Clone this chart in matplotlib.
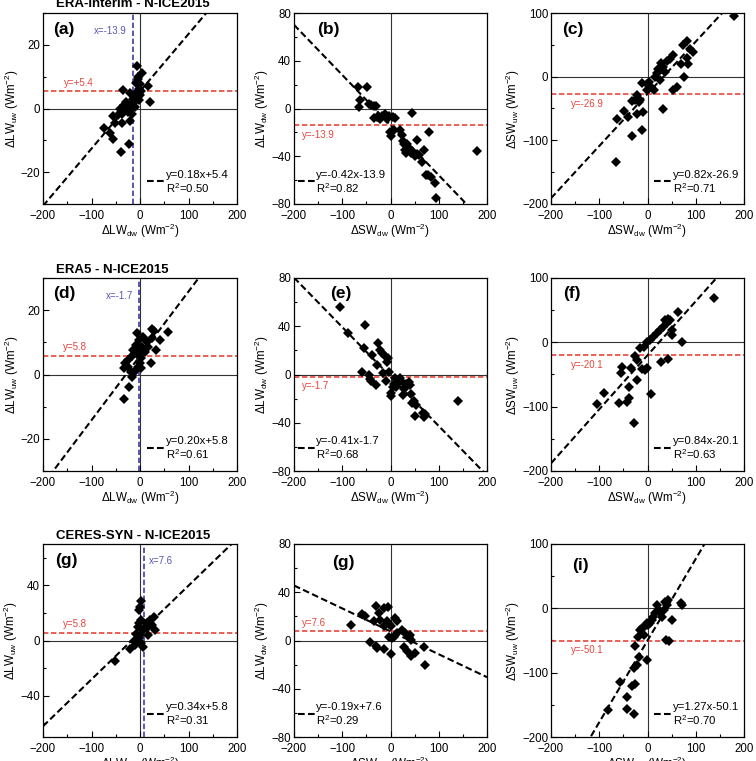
import matplotlib
matplotlib.use('Agg')
import matplotlib.pyplot as plt
from matplotlib.ticker import MultipleLocator
import matplotlib.transforms as mtransforms
import numpy as np

plt.rcParams['font.family'] = ['Liberation Sans', 'DejaVu Sans']
plt.rcParams['mathtext.fontset'] = 'custom'
plt.rcParams['mathtext.rm'] = 'Liberation Sans'
plt.rcParams['mathtext.it'] = 'Liberation Sans:italic'
plt.rcParams['mathtext.bf'] = 'Liberation Sans:bold'

# ---------------- data ----------------
row_titles = ['ERA-Interim - N-ICE2015', 'ERA5 - N-ICE2015', 'CERES-SYN - N-ICE2015']
panel_labels = ['(a)', '(b)', '(c)', '(d)', '(e)', '(f)', '(g)', '(g)', '(i)']
slopes = [0.18, -0.42, 0.82, 0.20, -0.41, 0.84, 0.34, -0.19, 1.27]
intercepts = [5.4, -13.9, -26.9, 5.8, -1.7, -20.1, 5.8, 7.6, -50.1]
r2_values = [0.50, 0.82, 0.71, 0.61, 0.68, 0.63, 0.31, 0.29, 0.70]
eq_labels = ['y=0.18x+5.4', 'y=-0.42x-13.9', 'y=0.82x-26.9',
             'y=0.20x+5.8', 'y=-0.41x-1.7', 'y=0.84x-20.1',
             'y=0.34x+5.8', 'y=-0.19x+7.6', 'y=1.27x-50.1']
r2_labels = ['R$^2$=0.50', 'R$^2$=0.82', 'R$^2$=0.71',
             'R$^2$=0.61', 'R$^2$=0.68', 'R$^2$=0.63',
             'R$^2$=0.31', 'R$^2$=0.29', 'R$^2$=0.70']
hline_labels = ['y=+5.4', 'y=-13.9', 'y=-26.9', 'y=5.8', 'y=-1.7', 'y=-20.1',
                'y=5.8', 'y=7.6', 'y=-50.1']
vline_values = [-13.9, -1.7, 7.6]
vline_labels = ['x=-13.9', 'x=-1.7', 'x=7.6']
x_range = [-200, 200]
y_ranges = [(-30, 30), (-80, 80), (-200, 100),
            (-30, 30), (-80, 80), (-200, 100),
            (-70, 70), (-80, 80), (-200, 100)]
y_major = [20, 40, 100, 20, 40, 100, 40, 40, 100]
y_minor = [10, 20, 50, 10, 20, 50, 20, 20, 50]

# (a) dLWuw vs dLWdw, ERA-Interim
a_x = [-6, 4, -5, 0, 17, 20, -35, -21, -7, -5, -8, -14, -28, -34, -41, -31, -38, -45,
       -21, -17, -55, -52, -38, -21, -75, -62, -55, -22, -40, -3, -1, -14, -29, -10,
       -25, -18, -12, -2, 2, -8, -4]
a_y = [13.3, 11, 9.4, 7.8, 7, 2, 5.8, 5, 5.2, 3.7, 2.6, 1.6, 0.6, 1, 0, -0.5, -1.6, -2.1,
       0, -1.6, -2.5, -4.5, -4.7, -3.9, -6, -7.6, -9.6, -11.2, -13.6, 2.6, 4.2, 3.1, 2.1, 0.5,
       -1, 1.5, 4, 6, 5.5, 8, 10]
# (b) dLWdw vs dSWdw, ERA-Interim
b_x = [-67, -48, -63, -66, -44, -40, -35, -30, -34, -27, -22, -18, -12, -8, -3, 5, 10,
       -2, 2, 8, 20, 24, 45, 28, 30, 33, 38, 42, 45, 50, 55, 55, 60, 65, 70, 73, 78, 83,
       80, 92, 95, 180, 35, 25]
b_y = [18, 18, 7, 1, 4, 3, 2, 2, -8, -7, -9, -6, -5, -9, -6, -7, -8,
       -20, -23, -18, -18, -22, -4, -30, -35, -37, -33, -37, -36, -40, -26, -38, -39, -45,
       -35, -56, -56, -57, -20, -62, -75, -36, -30, -27]
# (c) dSWuw vs dSWdw, ERA-Interim
c_x = [180, 81, 88, 94, 73, 52, 47, 81, 84, 70, 29, 32, 26, 19, 16, 26, 37, 76, 52, 62,
       33, 3, -1, 7, -1, -12, -22, -26, -33, -17, -10, -22, -48, -41, -63, -32, -12, -65,
       13, -15, 40, 22]
c_y = [95, 56, 44, 38, 50, 34, 27, 30, 20, 20, 21, 15, 10, 5, 0, -6, 7, 0, -21, -17,
       -51, -8, -11, -17, -21, -10, -29, -37, -38, -40, -55, -58, -54, -63, -66, -93, -83,
       -134, -21, -37, 24, 12]
# (d) dLWuw vs dLWdw, ERA5
d_x = [24, 28, 57, 41, 24, 7, 14, 34, 22, -7, -3, -8, -14, -10, -17, -24, -31, -33, -24,
       -19, -14, -8, -5, 0, 3, -17, -22, -33, -3, 3, 10, 17, 5, 0]
d_y = [14.2, 13.4, 13.3, 10.8, 11.3, 11.8, 10.2, 7.6, 3.7, 12.8, 10.8, 9.2, 7.6, 6.6, 5.6,
       4.5, 3.5, 1.9, 2.4, 0.9, 0.4, 1.4, 2.4, 3.5, 1.9, -0.7, -4, -7.6, 5.6, 5.1, 7.1, 8.7,
       8.7, 7.6]
# (e) dLWdw vs dSWdw, ERA5
e_x = [-105, -52, -88, -55, -38, -25, -22, -18, -12, -8, -5, -28, -45, -40, -60, -30, -42,
       -3, 0, 2, 5, 8, 12, 15, 20, 25, 28, 32, 38, 42, 45, 48, 50, 52, 68, 70, 72, 140,
       -10, -15, 10, 30, 40, 22]
e_y = [56, 41, 34, 22, 16, 26, 20, 18, 15, 10, 14, 8, 0, -5, 2, -9, -4,
       2, -15, -18, -10, -8, -10, -6, -3, -17, -12, -8, -6, -16, -24, -22, -34, -25, -32,
       -35, -33, -22, -5, 1, -3, -10, -9, -5]
# (f) dSWuw vs dSWdw, ERA5
f_x = [137, 64, 47, 40, 33, 26, 19, 12, 50, 50, 71, 43, 28, 8, -1, -8, -15, -25, -22, -1,
       -5, -12, -34, -53, -55, -22, -39, -39, -43, -90, -105, -59, -29, 37, 43, 5]
f_y = [69, 47, 35, 30, 24, 19, 14, 9, 19, 11, 0, -26, -30, -80, 1, -7, -9, -22, -27, -40,
       -43, -41, -40, -39, -48, -59, -69, -87, -92, -79, -96, -95, -126, 34, 37, 3]
# (g) dLWuw vs dLWdw, CERES-SYN
g_x = [2, 0, -3, -52, -21, -10, -7, -3, -12, 0, 7, 14, 21, 28, 24, 31, 17, 3, 7, 14, -3, 3,
       -5, -8, 10, 20]
g_y = [28.3, 24.6, 22, -14.7, -6.4, -3.3, -1, 1.5, 0, 4, 7.6, 12.5, 15, 17, 11, 7.6, 4,
       -2, -4.5, 9, 12.5, 15, 10, 5, 10, 13]
# (h) dLWdw vs dSWdw, CERES-SYN
h_x = [-81, -60, -53, -30, -14, -5, -23, -35, -22, -7, -14, -3, 10, 14, 0, -3, 3, 14, 24,
       31, 38, 42, 40, 7, -42, -31, -28, -14, 0, 28, 35, 42, 50, 69, 71]
h_y = [13, 22, 20, 29, 27, 28, 23, 16, 17, 16, 12, 14, 19, 16, 12, 3, 2, 6, 9, 6, 3, 0.4,
       4.5, 3, -1, -4.5, -6.5, -7.3, -11.5, -5, -9, -13, -10, -5.7, -20]
# (i) dSWuw vs dSWdw, CERES-SYN
i_x = [70, 72, 50, 42, 37, 40, 39, 44, 19, 23, 16, 12, 9, 6, 2, -1, -5, -12, -15, -19, -8,
       -1, -26, -17, -22, -29, -32, -26, -43, -58, -43, -29, -81, 26, 30, 35]
i_y = [9, 5, -18, 13, 10, 5, -50, -51, 5, -3, -8, -13, -18, -23, -26, -23, -28, -31, -34,
       -44, -41, -80, -59, -75, -88, -92, -121, -118, -138, -114, -157, -165, -158, -8, -13,
       -2]

panel_x = [a_x, b_x, c_x, d_x, e_x, f_x, g_x, h_x, i_x]
panel_y = [a_y, b_y, c_y, d_y, e_y, f_y, g_y, h_y, i_y]

x_labels = ['$\\Delta$LW$_{\\mathrm{dw}}$ (Wm$^{\\mathrm{-2}}$)',
            '$\\Delta$SW$_{\\mathrm{dw}}$ (Wm$^{\\mathrm{-2}}$)',
            '$\\Delta$SW$_{\\mathrm{dw}}$ (Wm$^{\\mathrm{-2}}$)']
y_labels = ['$\\Delta$LW$_{\\mathrm{uw}}$ (Wm$^{\\mathrm{-2}}$)',
            '$\\Delta$LW$_{\\mathrm{dw}}$ (Wm$^{\\mathrm{-2}}$)',
            '$\\Delta$SW$_{\\mathrm{uw}}$ (Wm$^{\\mathrm{-2}}$)']

# ---------------- layout ----------------
W, H = 756, 761
fig = plt.figure(figsize=(W / 100, H / 100), dpi=100)

col_left = [43, 294, 551]
col_w = [194, 193, 193]
row_top = [13, 278, 544]
row_h = [191, 193, 193]

letter_pos = [(0.052, 0.911), (0.118, 0.911), (0.057, 0.911),
              (0.052, 0.922), (0.187, 0.922), (0.062, 0.922),
              (0.062, 0.917), (0.197, 0.902), (0.109, 0.891)]
legend_right = [True, False, True, True, False, True, True, False, True]
hline_text_x = [0.108, 0.04, 0.104, 0.103, 0.04, 0.104, 0.103, 0.04, 0.104]
hline_above = [True, False, False, True, False, False, True, True, False]
title_baseline = [7, 273, 539]

RED = '#e8453c'
BLUE = '#3c3ca8'
BLUE_T = '#5656b4'

for k in range(9):
    r, c = divmod(k, 3)
    l = col_left[c] / W
    b = 1 - (row_top[r] + row_h[r]) / H
    ax = fig.add_axes([l, b, col_w[c] / W, row_h[r] / H])
    ax.set_xlim(*x_range)
    ax.set_ylim(*y_ranges[k])
    ax.xaxis.set_major_locator(MultipleLocator(100))
    ax.xaxis.set_minor_locator(MultipleLocator(50))
    ax.yaxis.set_major_locator(MultipleLocator(y_major[k]))
    ax.yaxis.set_minor_locator(MultipleLocator(y_minor[k]))
    ax.tick_params(which='both', direction='in', labelsize=8.3, width=0.8)
    ax.tick_params(axis='x', pad=4)
    ax.tick_params(axis='y', pad=2)
    ax.tick_params(which='major', length=4.5)
    ax.tick_params(which='minor', length=2.5)
    for s in ax.spines.values():
        s.set_linewidth(0.9)

    ax.axhline(0, color='#333333', lw=0.8, zorder=1)
    ax.axvline(0, color='#333333', lw=0.8, zorder=1)

    xs = np.array(x_range, dtype=float)
    ax.plot(xs, slopes[k] * xs + intercepts[k], color='black', lw=1.5,
            ls=(0, (3.2, 1.6)), zorder=3)
    ax.axhline(intercepts[k], color=RED, lw=1.2, ls=(0, (3.2, 1.6)), zorder=2)
    trans = mtransforms.blended_transform_factory(ax.transAxes, ax.transData)
    if hline_above[k]:
        ax.annotate(hline_labels[k], xy=(hline_text_x[k], intercepts[k]), xycoords=trans,
                    xytext=(0, 2.5), textcoords='offset points', color=RED, fontsize=7,
                    ha='left', va='bottom')
    else:
        ax.annotate(hline_labels[k], xy=(hline_text_x[k], intercepts[k]), xycoords=trans,
                    xytext=(0, -3.5), textcoords='offset points', color=RED, fontsize=7,
                    ha='left', va='top')

    ax.plot(panel_x[k], panel_y[k], ls='none', marker='D', ms=4.8, color='black',
            mew=0, zorder=4)

    if c == 0:
        vx = vline_values[r]
        ax.axvline(vx, color=BLUE, lw=1.2, ls=(0, (3.2, 1.6)), zorder=2)
        vtrans = mtransforms.blended_transform_factory(ax.transData, ax.transAxes)
        if vx < 0:
            ax.annotate(vline_labels[r], xy=(vx, 1), xycoords=vtrans, xytext=(-4.5, -13),
                        textcoords='offset points', color=BLUE_T, fontsize=7,
                        ha='right', va='center')
        else:
            ax.annotate(vline_labels[r], xy=(vx, 1), xycoords=vtrans, xytext=(3.5, -12.5),
                        textcoords='offset points', color=BLUE_T, fontsize=7,
                        ha='left', va='center')

    ax.text(letter_pos[k][0], letter_pos[k][1], panel_labels[k], transform=ax.transAxes,
            fontsize=12.5, fontweight='bold', ha='left', va='center')

    if legend_right[k]:
        x0, x1, xt = 0.536, 0.628, 0.634
    else:
        x0, x1, xt = 0.02, 0.109, 0.116
    ax.plot([x0, x1], [0.118, 0.118], transform=ax.transAxes, color='black', lw=1.5,
            ls=(0, (3.2, 1.6)), zorder=5)
    ax.text(xt, 0.153, eq_labels[k], transform=ax.transAxes, fontsize=8.2,
            ha='left', va='center')
    ax.text(xt, 0.085, r2_labels[k], transform=ax.transAxes, fontsize=8.2,
            ha='left', va='center')

    ax.set_xlabel(x_labels[c], fontsize=8.4, labelpad=0)
    ax.set_ylabel(y_labels[c], fontsize=8.4, labelpad=0)

    if c == 0:
        fig.text(56 / W, 1 - title_baseline[r] / H, row_titles[r], fontsize=9.5,
                 fontweight='bold', ha='left', va='baseline')

fig.savefig('out.png', dpi=100)
